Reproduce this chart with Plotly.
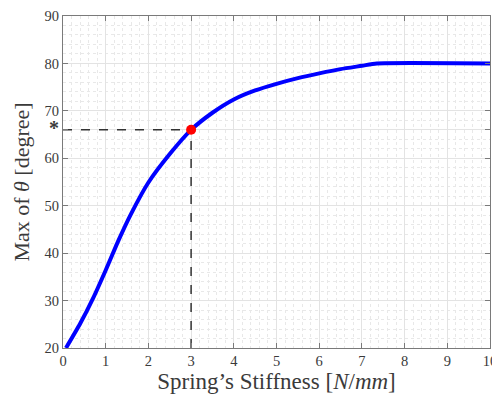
import plotly.graph_objects as go

stiffness = [0.07, 0.4, 0.7, 1.0, 1.3, 1.6, 2.0, 2.5, 3.0, 3.5, 4.0, 4.5, 5.0, 5.5, 6.0, 6.5, 7.0, 7.35, 10.0]
max_theta = [20.0, 25.1, 30.4, 36.4, 42.7, 48.4, 54.9, 60.9, 66.0, 69.6, 72.4, 74.3, 75.7, 76.9, 77.9, 78.8, 79.5, 80.0, 80.0]

opt_x = 3.0
opt_y = 66.0

y_tickvals = [20, 30, 40, 50, 60, opt_y, 70, 80, 90]
y_ticktext = ["20", "30", "40", "50", "60", "<span style='font-size:20px'><b>*</b></span>", "70", "80", "90"]
x_tickvals = list(range(0, 11))

font_family = "Liberation Serif, DejaVu Serif, serif"
axis_col = "#7a7a7a"

fig = go.Figure()

fig.add_trace(go.Scatter(x=[0, opt_x], y=[opt_y, opt_y], mode="lines",
                         line=dict(color="#333333", width=1.5, dash="dash"),
                         showlegend=False, hoverinfo="skip"))
fig.add_trace(go.Scatter(x=[opt_x, opt_x], y=[20, opt_y], mode="lines",
                         line=dict(color="#333333", width=1.5, dash="dash"),
                         showlegend=False, hoverinfo="skip"))
fig.add_trace(go.Scatter(x=stiffness, y=max_theta, mode="lines",
                         line=dict(color="#0000ff", width=4, shape="spline", smoothing=0.6),
                         showlegend=False))
fig.add_trace(go.Scatter(x=[opt_x], y=[opt_y], mode="markers",
                         marker=dict(color="#ff0000", size=10),
                         showlegend=False))

common = dict(
    showline=True, linecolor=axis_col, linewidth=1, mirror="ticks",
    ticks="inside", ticklen=5, tickcolor=axis_col,
    showgrid=True, gridcolor="#e3e3e3", gridwidth=1,
    zeroline=False, automargin=False, ticklabeloverflow="allow",
    tickfont=dict(family=font_family, size=14.5, color="#3a3a3a"),
)

fig.update_xaxes(
    range=[0, 10], tickvals=x_tickvals,
    minor=dict(dtick=0.2, showgrid=True, gridcolor="#e8e8e8", griddash="dot", gridwidth=1),
    title=dict(text="Spring’s Stiffness [<i>N</i>/<i>mm</i>]",
               font=dict(family=font_family, size=23, color="#3a3a3a"), standoff=4),
    **common)
fig.update_yaxes(
    range=[20, 90], tickvals=y_tickvals, ticktext=y_ticktext,
    minor=dict(tickvals=[v for v in range(22, 90, 2) if v % 10 != 0],
               showgrid=True, gridcolor="#e8e8e8", griddash="dot", gridwidth=1),
    title=dict(text="Max of <i>θ</i> [degree]",
               font=dict(family=font_family, size=22, color="#3a3a3a"), standoff=8),
    **common)

# the page body adds an 8px offset, so the figure is sized to fit the window
fig.update_layout(
    width=492, height=386,
    margin=dict(l=55, r=10, t=8, b=46),
    plot_bgcolor="white", paper_bgcolor="white",
)

fig.write_html("out.html")
